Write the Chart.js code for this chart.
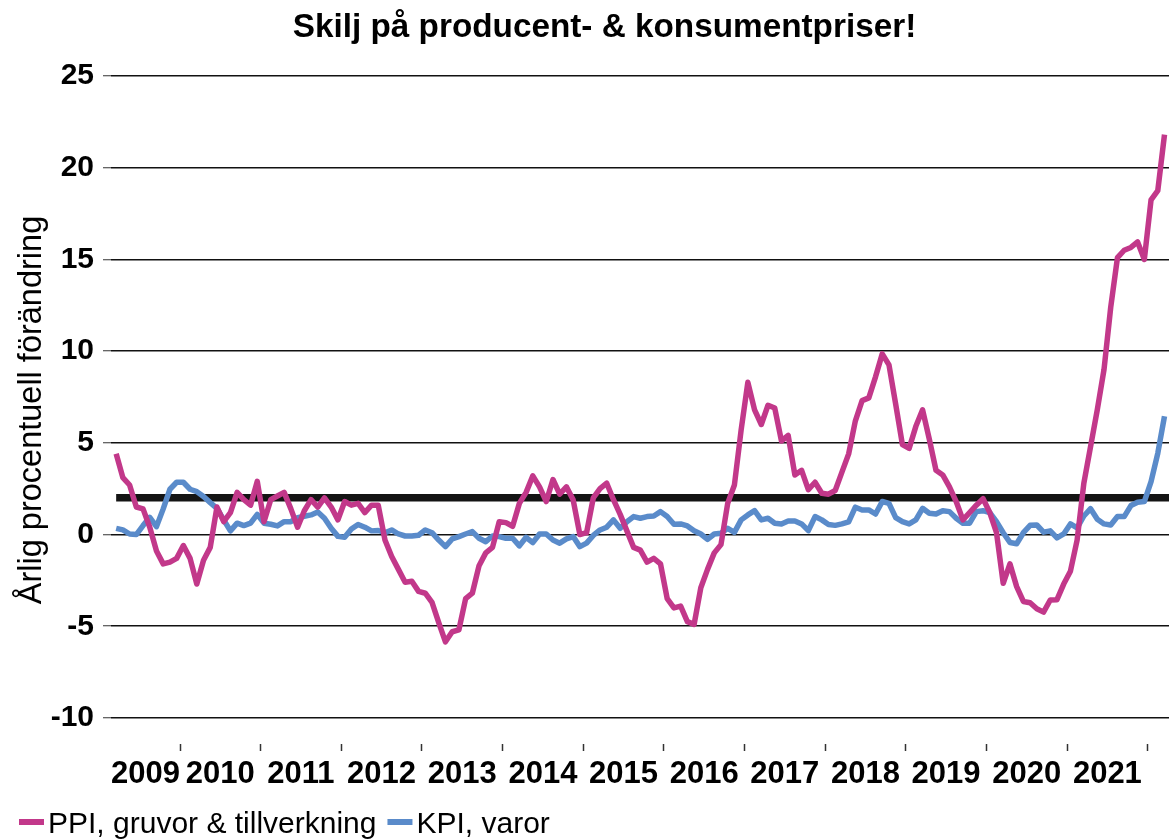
<!DOCTYPE html>
<html><head><meta charset="utf-8">
<script src="https://cdn.jsdelivr.net/npm/chart.js@4.4.1/dist/chart.umd.min.js"></script>
<style>html,body{margin:0;padding:0;background:#fff;}canvas{display:block;}</style>
</head><body>
<canvas id="c" width="1169" height="840"></canvas>
<script>
const titleText = 'Skilj på producent- & konsumentpriser!';
const yAxisTitle = 'Årlig procentuell förändring';
const seriesNames = ['PPI, gruvor & tillverkning', 'KPI, varor'];
const yearLabels = ['2009','2010','2011','2012','2013','2014','2015','2016','2017','2018','2019','2020','2021'];
const yTickValues = [-10, -5, 0, 5, 10, 15, 20, 25];
const firstYear = 2009, firstMonth = 3; // series start: March 2009, monthly
const inflationTarget = 2;

// PPI, gruvor & tillverkning (annual % change), Mar 2009 - Mar 2022
const ppi = [
  4.4, 3.1, 2.7, 1.5, 1.4, 0.4, -0.9, -1.6, -1.5, -1.3,
  -0.6, -1.3, -2.7, -1.4, -0.7, 1.5, 0.7, 1.2, 2.3, 1.9, 1.6, 2.9,
  0.7, 1.9, 2.1, 2.3, 1.4, 0.4, 1.3, 1.9, 1.5, 2.0, 1.5, 0.8,
  1.8, 1.6, 1.7, 1.2, 1.6, 1.6, -0.3, -1.2, -1.9, -2.6, -2.55, -3.1,
  -3.2, -3.7, -4.8, -5.85, -5.3, -5.2, -3.5, -3.2, -1.7, -1.0, -0.7, 0.7,
  0.65, 0.45, 1.7, 2.3, 3.2, 2.6, 1.8, 3.0, 2.2, 2.6, 1.9, 0.0,
  0.1, 2.0, 2.5, 2.8, 1.9, 1.1, 0.2, -0.7, -0.85, -1.5, -1.3, -1.6,
  -3.5, -4.0, -3.9, -4.75, -4.9, -2.9, -1.9, -1.0, -0.55, 1.7, 2.7, 5.7,
  8.3, 6.8, 6.0, 7.05, 6.9, 5.1, 5.4, 3.25, 3.5, 2.45, 2.85, 2.25,
  2.2, 2.4, 3.4, 4.4, 6.2, 7.3, 7.45, 8.6, 9.85, 9.25, 7.1, 4.9,
  4.7, 5.9, 6.8, 5.2, 3.5, 3.25, 2.6, 1.8, 0.8, 1.2, 1.6, 1.95,
  1.2, 0.1, -2.66, -1.6, -2.84, -3.65, -3.72, -4.05, -4.23, -3.57, -3.55, -2.7,
  -2.0, -0.3, 2.8, 4.8, 6.8, 9.0, 12.4, 15.1, 15.5, 15.65, 15.95, 15.0,
  18.25, 18.75, 21.8
];

// KPI, varor (annual % change), Mar 2009 - Mar 2022
const kpi = [
  0.34, 0.25, 0.03, 0.0, 0.49, 0.94, 0.43, 1.4, 2.47, 2.85,
  2.85, 2.47, 2.34, 2.07, 1.74, 1.43, 0.8, 0.2, 0.62, 0.49, 0.62, 1.1,
  0.62, 0.56, 0.47, 0.7, 0.7, 0.92, 1.0, 1.07, 1.23, 0.89, 0.34, -0.1,
  -0.15, 0.3, 0.55, 0.4, 0.2, 0.22, 0.1, 0.25, 0.03, -0.08, -0.08, -0.04,
  0.25, 0.1, -0.3, -0.66, -0.24, -0.11, 0.03, 0.16, -0.2, -0.39, -0.08, -0.11,
  -0.2, -0.2, -0.62, -0.15, -0.44, 0.03, 0.03, -0.3, -0.47, -0.24, -0.11, -0.66,
  -0.47, -0.05, 0.25, 0.4, 0.8, 0.34, 0.7, 0.98, 0.89, 0.98, 1.01, 1.25,
  0.98, 0.56, 0.58, 0.47, 0.21, 0.03, -0.26, 0.03, 0.07, 0.34, 0.12, 0.8,
  1.07, 1.3, 0.8, 0.89, 0.62, 0.58, 0.74, 0.74, 0.58, 0.21, 0.98, 0.8,
  0.55, 0.5, 0.58, 0.69, 1.49, 1.34, 1.34, 1.12, 1.8, 1.7, 0.92, 0.7,
  0.58, 0.8, 1.43, 1.16, 1.12, 1.3, 1.25, 0.89, 0.62, 0.62, 1.25, 1.3,
  1.2, 0.7, 0.1, -0.43, -0.5, 0.1, 0.5, 0.52, 0.13, 0.2, -0.18, 0.03,
  0.58, 0.36, 1.01, 1.41, 0.83, 0.58, 0.52, 0.98, 0.98, 1.58, 1.76, 1.8,
  2.88, 4.43, 6.45
];

const FONT = "'Liberation Sans', Arial, Helvetica, sans-serif";
const PINK = '#C2388A';
const BLUE = '#5A8BCA';
const baseYear = +yearLabels[0];
const monthX = i => (firstYear - baseYear) * 12 + (firstMonth - 1) + 0.5 + i;
const X_MIN = 1.732, X_MAX = 159.17;

const chromePlugin = {
  id: 'chrome',
  afterDraw(chart) {
    const ctx = chart.ctx;
    ctx.save();
    ctx.fillStyle = '#000';
    ctx.font = 'bold 33.3px ' + FONT;
    ctx.textAlign = 'center';
    ctx.textBaseline = 'alphabetic';
    ctx.fillText(titleText, 604.5, 37);
    // legend
    ctx.font = '30px ' + FONT;
    ctx.textAlign = 'left';
    const colors = [PINK, BLUE];
    let x = 19;
    seriesNames.forEach((name, k) => {
      ctx.fillStyle = colors[k];
      ctx.fillRect(x, 819, 25, 6);
      ctx.fillStyle = '#000';
      ctx.fillText(name, x + 29, 833);
      x += 29 + ctx.measureText(name).width + 11;
    });
    ctx.restore();
  }
};

new Chart(document.getElementById('c'), {
  type: 'line',
  data: {
    datasets: [
      { label: seriesNames[0], data: ppi.map((v, i) => ({x: monthX(i), y: v})),
        borderColor: PINK, borderWidth: 5.5, pointRadius: 0, tension: 0, borderJoinStyle: 'round', fill: false },
      { label: seriesNames[1], data: kpi.map((v, i) => ({x: monthX(i), y: v})),
        borderColor: BLUE, borderWidth: 5.5, pointRadius: 0, tension: 0, borderJoinStyle: 'round', fill: false },
      { label: 'Inflationsmål', data: [{x: monthX(0), y: inflationTarget}, {x: X_MAX, y: inflationTarget}],
        borderColor: '#141414', borderWidth: 7.5, pointRadius: 0, fill: false }
    ]
  },
  options: {
    responsive: false,
    animation: false,
    devicePixelRatio: 1,
    layout: { padding: { top: 76, left: 0, right: 0, bottom: 0 } },
    plugins: { legend: { display: false }, tooltip: { enabled: false }, title: { display: false } },
    scales: {
      x: {
        type: 'linear', min: X_MIN, max: X_MAX,
        afterBuildTicks: s => {
          const t = [];
          yearLabels.forEach((lab, k) => {
            const start = k * 12, end = start + 12;
            t.push({ value: (Math.max(start, X_MIN) + Math.min(end, X_MAX)) / 2, year: lab });
            t.push({ value: end, boundary: true });
          });
          s.ticks = t;
        },
        afterFit: s => { s.height = 96; },
        border: { display: false },
        grid: { drawOnChartArea: false, drawTicks: true, tickLength: 7, tickWidth: 1.5,
                tickColor: c => (c.tick && c.tick.boundary) ? '#333' : 'rgba(0,0,0,0)' },
        ticks: { autoSkip: false, maxRotation: 0, minRotation: 0, padding: 5, color: '#000',
                 font: { family: FONT, size: 31, weight: 'bold' },
                 callback: (v, i, ticks) => ticks[i].year || '' }
      },
      y: {
        type: 'linear', min: -11.42, max: 25,
        afterBuildTicks: s => { s.ticks = yTickValues.map(v => ({ value: v })); },
        afterFit: s => { s.width = 111; },
        border: { display: false },
        grid: { color: '#111', lineWidth: 1.5, drawTicks: true, tickLength: 8, tickColor: '#333', tickWidth: 1 },
        ticks: { color: '#000', padding: 9, font: { family: FONT, size: 30, weight: 'bold' },
                 callback: v => String(v) },
        title: { display: true, text: yAxisTitle, color: '#000',
                 font: { family: FONT, size: 32.5, weight: 'normal' }, padding: { top: 13, bottom: 0 } }
      }
    }
  },
  plugins: [chromePlugin]
});
</script>
</body></html>
